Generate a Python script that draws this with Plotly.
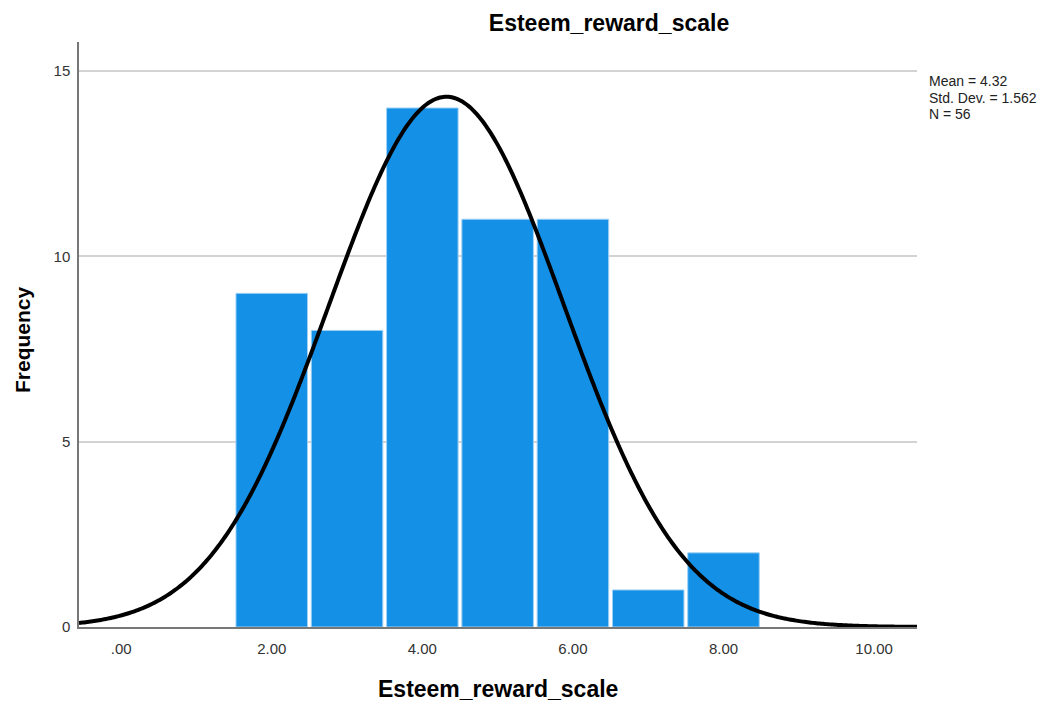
import numpy as np
import plotly.graph_objects as go

# histogram bins (bin width 1)
bin_centers = [2, 3, 4, 5, 6, 7, 8]
counts = [9, 8, 14, 11, 11, 1, 2]

mean = 4.32
std_dev = 1.562
n = 56

x_ticks = [0, 2, 4, 6, 8, 10]
x_tick_labels = [".00", "2.00", "4.00", "6.00", "8.00", "10.00"]
y_ticks = [0, 5, 10, 15]
stats_lines = [f"Mean = {mean:.2f}", f"Std. Dev. = {std_dev:.3f}", f"N = {n}"]

x_min, x_max = -0.56, 10.57

# fitted normal curve from the reported mean / sd / N
xs = np.linspace(x_min, x_max, 500)
ys = n / (std_dev * np.sqrt(2 * np.pi)) * np.exp(-0.5 * ((xs - mean) / std_dev) ** 2)

fig = go.Figure()
fig.add_trace(go.Bar(x=bin_centers, y=counts, width=0.95,
                     marker=dict(color="#1490E6", line=dict(color="#9fd0f5", width=1)),
                     hoverinfo="x+y"))
fig.add_trace(go.Scatter(x=xs, y=ys, mode="lines",
                         line=dict(color="black", width=4, simplify=False), hoverinfo="skip"))

fig.update_layout(
    width=1052, height=705,
    margin=dict(l=71, r=143, t=34, b=86),
    paper_bgcolor="white", plot_bgcolor="white",
    showlegend=False,
    font=dict(family="Liberation Sans, Arial, sans-serif", color="#222"),
    title=dict(text="<b>Esteem_reward_scale</b>", x=601 / 1052, xanchor="center",
               y=1 - 15 / 705, yanchor="middle", font=dict(size=23, color="black")),
    xaxis=dict(range=[x_min, x_max], tickvals=x_ticks, ticktext=x_tick_labels,
               showgrid=False, zeroline=False, showline=True, linecolor="#777", linewidth=1.5,
               ticks="", ticklabelstandoff=7, tickfont=dict(size=15, color="#333")),
    yaxis=dict(range=[0, 15.78], tickvals=y_ticks, showgrid=True, gridcolor="#d3d3d3",
               gridwidth=2, zeroline=False, showline=True, linecolor="#777", linewidth=1.5,
               ticks="", ticklabelstandoff=4, tickfont=dict(size=15, color="#333")),
)

# axis titles
fig.add_annotation(xref="paper", yref="paper", x=0.5, y=-62 / 585, xanchor="center",
                   yanchor="middle", showarrow=False, text="<b>Esteem_reward_scale</b>",
                   font=dict(size=23, color="black"))
fig.add_annotation(xref="paper", yref="paper", x=-56 / 838, y=0.4906, xanchor="center",
                   yanchor="middle", showarrow=False, textangle=-90, text="<b>Frequency</b>",
                   font=dict(size=21, color="black"))

# stats box, one line each
for i, line in enumerate(stats_lines):
    fig.add_annotation(xref="paper", yref="paper", x=1 + 10 / 838,
                       y=1 - (39 + 16.5 * i) / 585, xanchor="left", yanchor="middle",
                       showarrow=False, text=line, font=dict(size=14, color="#222"))

fig.write_html("out.html")
